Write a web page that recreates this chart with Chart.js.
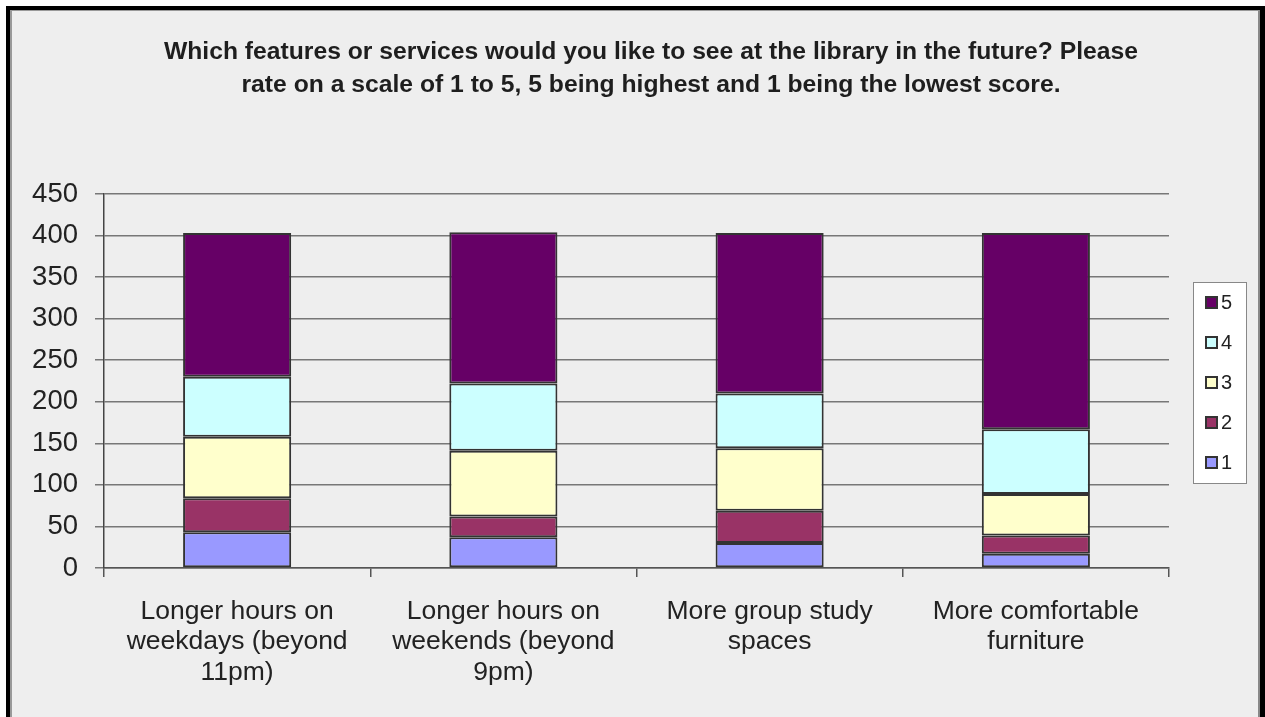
<!DOCTYPE html>
<html>
<head>
<meta charset="utf-8">
<script src="https://cdn.jsdelivr.net/npm/chart.js@4/dist/chart.umd.min.js"></script>
<style>
  html, body { margin:0; padding:0; background:#ffffff; width:1265px; height:717px; overflow:hidden; }
  #frame { position:absolute; left:6px; top:6px; width:1250px; height:800px;
           border-top:4px solid #000; border-left:4px solid #000; border-right:5px solid #000; }
  #inner { position:absolute; left:0; top:0; right:0; bottom:0; background:#eeeeee;
           border-top:1px solid #999; border-left:2px solid #999; border-right:2px solid #888; }
  #c { position:absolute; left:0; top:0; }
</style>
</head>
<body>
<div id="frame"><div id="inner"></div></div>
<canvas id="c" width="1265" height="717"></canvas>
<script>
const titleLines = [
  "Which features or services would you like to see at the library in the future? Please",
  "rate on a scale of 1 to 5, 5 being highest and 1 being the lowest score."
];
const categories = [
  ["Longer hours on", "weekdays (beyond", "11pm)"],
  ["Longer hours on", "weekends (beyond", "9pm)"],
  ["More group study", "spaces"],
  ["More comfortable", "furniture"]
];
const seriesLabels = ["1", "2", "3", "4", "5"];
const rating1 = [43, 37, 30, 17];
const rating2 = [41, 25, 39, 22];
const rating3 = [74, 79, 75, 50];
const rating4 = [72, 81, 66, 78];
const rating5 = [173, 182, 193, 236];
const seriesColors = ["#9999ff", "#993366", "#ffffcc", "#ccffff", "#660066"];
const yTicks = { min: 0, max: 450, step: 50 };

const FONT = "'Liberation Sans', Arial, sans-serif";
const allSeries = [rating1, rating2, rating3, rating4, rating5];

const legendBox = {
  id: 'legendBox',
  afterDraw(chart) {
    const ctx = chart.ctx;
    const x = 1193.5, y = 282.5, w = 53, h = 201;
    ctx.save();
    ctx.fillStyle = '#ffffff';
    ctx.fillRect(x, y, w, h);
    ctx.strokeStyle = '#888888';
    ctx.lineWidth = 1;
    ctx.strokeRect(x, y, w, h);
    const ds = chart.data.datasets;
    ctx.font = "20px " + FONT;
    ctx.textBaseline = 'middle';
    ctx.textAlign = 'left';
    for (let i = 0; i < ds.length; i++) {
      const d = ds[ds.length - 1 - i];
      const cy = 302 + i * 40;
      ctx.fillStyle = d.backgroundColor;
      ctx.fillRect(1205, cy - 6, 13, 13);
      ctx.strokeStyle = '#333333';
      ctx.lineWidth = 2;
      ctx.strokeRect(1206, cy - 5, 11, 11);
      ctx.fillStyle = '#222222';
      ctx.fillText(d.label, 1221, cy + 1);
    }
    ctx.restore();
  }
};

new Chart(document.getElementById('c'), {
  type: 'bar',
  data: {
    labels: categories,
    datasets: seriesLabels.map((lab, i) => ({
      label: lab,
      data: allSeries[i],
      backgroundColor: seriesColors[i],
      borderColor: '#333333',
      borderWidth: 2,
      borderSkipped: false,
      barPercentage: 0.406,
      categoryPercentage: 1.0
    }))
  },
  options: {
    responsive: false,
    animation: false,
    layout: { padding: { left: 20, top: 35.5, right: -17, bottom: 0 } },
    plugins: {
      legend: { display: false },
      tooltip: { enabled: false },
      title: {
        display: true,
        text: titleLines,
        color: '#1e1e1e',
        font: { family: FONT, size: 24.7, weight: 'bold', lineHeight: '33px' },
        padding: { top: 0, bottom: 92.5 }
      }
    },
    scales: {
      x: {
        stacked: true,
        offset: true,
        grid: { display: true, drawOnChartArea: false, drawTicks: true, tickLength: 9, offset: true, color: '#555555', lineWidth: 1.5 },
        border: { display: true, color: '#555555', width: 1.5 },
        ticks: { color: '#222222', font: { family: FONT, size: 26.5, lineHeight: '30.5px' }, padding: 19, maxRotation: 0, autoSkip: false },
        afterFit(s) { s.height = 149; }
      },
      y: {
        stacked: true,
        min: yTicks.min,
        max: yTicks.max,
        ticks: { stepSize: yTicks.step, color: '#222222', font: { family: FONT, size: 27.5 }, padding: 17 },
        grid: { color: '#777777', lineWidth: 1.5, tickLength: 9, drawTicks: true },
        border: { display: true, color: '#444444', width: 1.5 },
        afterFit(s) { s.width = 84; }
      },
      yRight: {
        type: 'linear',
        position: 'right',
        display: true,
        grid: { display: false },
        border: { display: false },
        ticks: { display: false },
        afterFit(s) { s.width = 113; }
      }
    }
  },
  plugins: [legendBox]
});
</script>
</body>
</html>
